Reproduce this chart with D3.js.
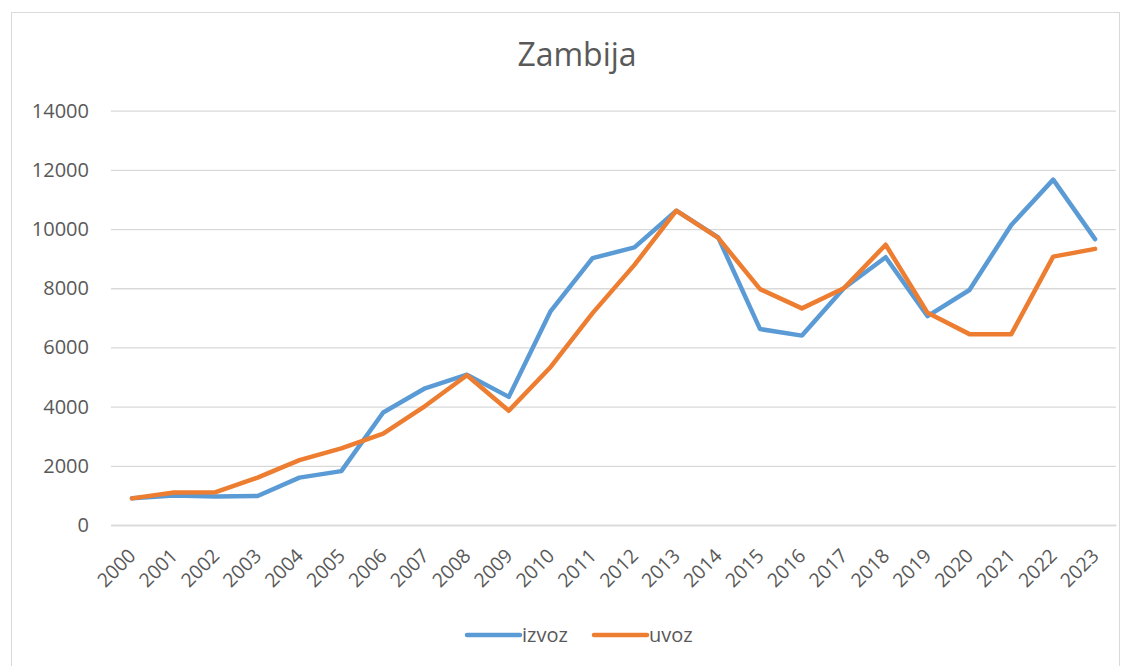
<!DOCTYPE html>
<html><head><meta charset="utf-8">
<script src="https://cdn.jsdelivr.net/npm/d3@7"></script>
<style>body{margin:0;background:#fff;}svg{display:block;font-family:"Open Sans","Liberation Sans",Arial,sans-serif;}</style>
</head><body>
<svg id="c" width="1131" height="666"></svg>
<script>
const years = ["2000","2001","2002","2003","2004","2005","2006","2007","2008","2009","2010","2011","2012","2013","2014","2015","2016","2017","2018","2019","2020","2021","2022","2023"];
const izvoz = [900,1000,960,980,1600,1820,3800,4620,5080,4330,7230,9020,9380,10620,9720,6620,6400,8000,9050,7060,7940,10140,11670,9660];
const uvoz = [900,1100,1110,1600,2190,2590,3090,4020,5060,3860,5340,7160,8790,10620,9700,7970,7320,8000,9470,7170,6450,6450,9070,9330];
const yTicks = [0,2000,4000,6000,8000,10000,12000,14000];
const seriesNames = ["izvoz","uvoz"];
const colors = ["#5B9BD5","#ED7D31"];
const FONT = "'Open Sans','Liberation Sans',Arial,sans-serif";

const svg = d3.select("#c");
svg.append("rect").attr("x",11.5).attr("y",12.5).attr("width",1108).attr("height",720)
  .attr("fill","#fff").attr("stroke","#d9d9d9");

const L=111, R=1116, T=110.7, B=525;
const x = d3.scaleBand().domain(years).range([L,R]);
const y = d3.scaleLinear().domain([0,14000]).range([B,T]);

svg.append("text").attr("x",577).attr("y",66).attr("text-anchor","middle")
  .attr("font-size",32).attr("fill","#595959").attr("font-family",FONT).text("Zambija");

const gy = svg.append("g").attr("transform",`translate(${L},0)`)
  .call(d3.axisLeft(y).tickValues(yTicks).tickSize(-(R-L)).tickPadding(22).tickFormat(d3.format("d")));
gy.attr("font-family",FONT);
gy.select(".domain").remove();
gy.selectAll(".tick line").attr("stroke","#d9d9d9").attr("stroke-width",1.3);
gy.selectAll(".tick text").attr("font-size",20).attr("fill","#595959").attr("font-family",FONT);

const gx = svg.append("g").attr("transform",`translate(0,${B})`)
  .call(d3.axisBottom(x).tickSize(0).tickPadding(0));
gx.attr("font-family",FONT);
gx.select(".domain").attr("stroke","#d9d9d9").attr("stroke-width",1.3);
gx.selectAll(".tick text").attr("font-size",19.5).attr("fill","#595959").attr("font-family",FONT)
  .attr("text-anchor","end").attr("dy",0).attr("transform","translate(5,32) rotate(-45)");

const line = d3.line().x((d,i)=>x(years[i])+x.bandwidth()/2).y(d=>y(d));
[izvoz,uvoz].forEach((s,k)=>{
  svg.append("path").datum(s).attr("d",line).attr("fill","none")
    .attr("stroke",colors[k]).attr("stroke-width",4.5).attr("stroke-linejoin","round").attr("stroke-linecap","round");
});

const legX=[467,594];
seriesNames.forEach((n,k)=>{
  svg.append("line").attr("x1",legX[k]).attr("x2",legX[k]+53).attr("y1",635).attr("y2",635)
    .attr("stroke",colors[k]).attr("stroke-width",4.5).attr("stroke-linecap","round");
  svg.append("text").attr("x",legX[k]+55).attr("y",642).attr("font-size",20).attr("fill","#595959").attr("font-family",FONT).text(n);
});
</script>
</body></html>
